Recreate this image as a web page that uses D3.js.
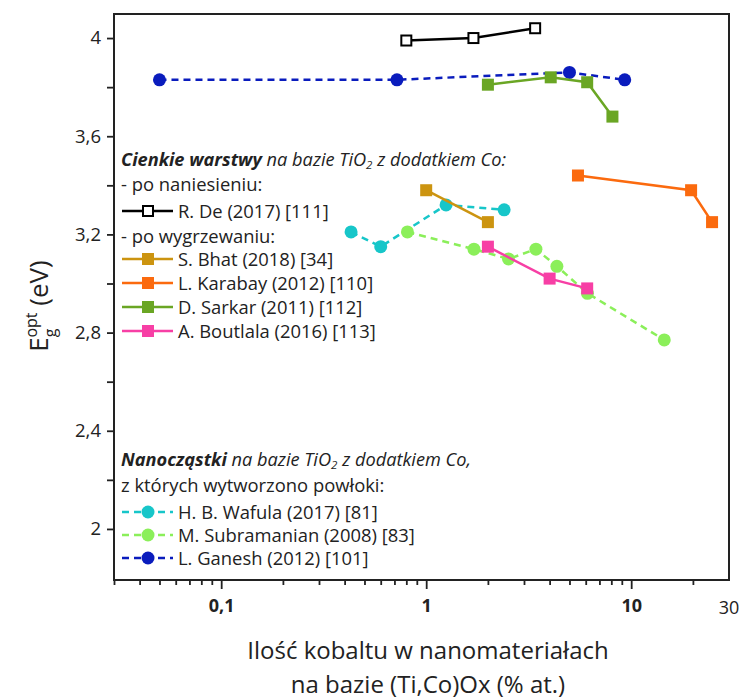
<!DOCTYPE html>
<html><head><meta charset="utf-8">
<script src="https://cdn.jsdelivr.net/npm/d3@7"></script>
<style>
body{margin:0;background:#fff;}
svg{display:block;font-family:"Open Sans",sans-serif;}
</style></head>
<body><svg id="c" width="744" height="700"></svg>
<script>
// ---- data ----
const rDeX = [0.8, 1.7, 3.4];
const rDeY = [3.99, 4.0, 4.04];
const bhatX = [1.0, 2.0];
const bhatY = [3.38, 3.25];
const karabayX = [5.5, 19.6, 24.8];
const karabayY = [3.44, 3.38, 3.25];
const sarkarX = [2.0, 4.05, 6.1, 8.1];
const sarkarY = [3.81, 3.84, 3.82, 3.68];
const boutlalaX = [2.0, 4.0, 6.1];
const boutlalaY = [3.15, 3.02, 2.98];
const wafulaX = [0.43, 0.6, 1.25, 2.4];
const wafulaY = [3.21, 3.15, 3.32, 3.30];
const subraX = [0.81, 1.71, 2.52, 3.43, 4.34, 6.12, 14.5];
const subraY = [3.21, 3.14, 3.10, 3.14, 3.07, 2.96, 2.77];
const ganeshX = [0.05, 0.72, 5.0, 9.3];
const ganeshY = [3.83, 3.83, 3.86, 3.83];
const xTickVals = [0.1, 1, 10, 30];
const xTickLabels = ["0,1", "1", "10", "30"];
const yTickVals = [2, 2.4, 2.8, 3.2, 3.6, 4];
const yTickLabels = ["2", "2,4", "2,8", "3,2", "3,6", "4"];
const yMinorVals = [2.2, 2.6, 3.0, 3.4, 3.8];

const series = [
  {name:"R. De (2017) [111]", x:rDeX, y:rDeY, color:"#000000", shape:"osq", dash:null},
  {name:"S. Bhat (2018) [34]", x:bhatX, y:bhatY, color:"#cc9410", shape:"sq", dash:null},
  {name:"L. Karabay (2012) [110]", x:karabayX, y:karabayY, color:"#fb6a0e", shape:"sq", dash:null},
  {name:"D. Sarkar (2011) [112]", x:sarkarX, y:sarkarY, color:"#6aa624", shape:"sq", dash:null},
  {name:"A. Boutlala (2016) [113]", x:boutlalaX, y:boutlalaY, color:"#f73fa5", shape:"sq", dash:null},
  {name:"H. B. Wafula (2017) [81]", x:wafulaX, y:wafulaY, color:"#17c6c9", shape:"ci", dash:"7,5"},
  {name:"M. Subramanian (2008) [83]", x:subraX, y:subraY, color:"#8bef5a", shape:"ci", dash:"7,5"},
  {name:"L. Ganesh (2012) [101]", x:ganeshX, y:ganeshY, color:"#0a1cbd", shape:"ci", dash:"7,5"}
];

// ---- layout ----
const L = 114, R = 729, T = 14, B = 580;
const svg = d3.select("#c");
const x = d3.scaleLog().domain([0.03, 30]).range([L, R]);
const y = d3.scaleLinear().domain([1.792, 4.098]).range([B, T]);

// frame
svg.append("rect").attr("x", L).attr("y", T).attr("width", R - L).attr("height", B - T)
  .attr("fill", "none").attr("stroke", "#222").attr("stroke-width", 2);

// x minor ticks
const minor = x.ticks().filter(v => !xTickVals.some(t => Math.abs(t - v) < 1e-9));
svg.append("g").attr("transform", `translate(0,${B})`)
  .call(d3.axisBottom(x).tickValues(minor).tickSize(5).tickFormat(""))
  .call(g => g.select(".domain").remove())
  .selectAll("line").attr("stroke", "#222").attr("stroke-width", 1.8);
// x major ticks
const xg = svg.append("g").attr("transform", `translate(0,${B})`)
  .call(d3.axisBottom(x).tickValues(xTickVals.slice(0, 3)).tickSize(9).tickFormat((d, i) => xTickLabels[i]).tickPadding(10));
xg.select(".domain").remove();
xg.selectAll("line").attr("stroke", "#222").attr("stroke-width", 1.8);
xg.selectAll("text").attr("font-size", 18).attr("font-weight", "bold").attr("fill", "#222")
  .attr("font-family", "'Open Sans',sans-serif");
svg.append("text").attr("x", x(30)).attr("y", B + 34).attr("text-anchor", "middle")
  .attr("font-size", 18).attr("fill", "#222").text(xTickLabels[3]);

// y ticks
const yg = svg.append("g").attr("transform", `translate(${L},0)`)
  .call(d3.axisLeft(y).tickValues(yTickVals).tickSize(7).tickPadding(6).tickFormat((d, i) => yTickLabels[i]));
yg.select(".domain").remove();
yg.selectAll("line").attr("stroke", "#222").attr("stroke-width", 1.8);
yg.selectAll("text").attr("font-size", 18.5).attr("fill", "#222").attr("font-family", "'Open Sans',sans-serif");
svg.append("g").attr("transform", `translate(${L},0)`)
  .call(d3.axisLeft(y).tickValues(yMinorVals).tickSize(7).tickFormat(""))
  .call(g => g.select(".domain").remove())
  .selectAll("line").attr("stroke", "#222").attr("stroke-width", 1.8);

// y title
const yt = svg.append("text").attr("transform", "translate(48,306) rotate(-90)")
  .attr("text-anchor", "middle").attr("font-size", 26).attr("fill", "#222");
yt.append("tspan").text("E");
yt.append("tspan").attr("font-size", 16).attr("dy", 8).text("g");
yt.append("tspan").attr("font-size", 16).attr("dx", -9).attr("dy", -19).text("opt");
yt.append("tspan").attr("dy", 11).text(" (eV)");

// x title
svg.append("text").attr("x", 428).attr("y", 659).attr("text-anchor", "middle")
  .attr("font-size", 24).attr("fill", "#222").text("Ilość kobaltu w nanomateriałach");
svg.append("text").attr("x", 428).attr("y", 693).attr("text-anchor", "middle")
  .attr("font-size", 24).attr("fill", "#222").text("na bazie (Ti,Co)Ox (% at.)");

// markers
function marker(g, shape, color, cx, cy) {
  if (shape === "ci") {
    g.append("circle").attr("cx", cx).attr("cy", cy).attr("r", 6.5).attr("fill", color);
  } else if (shape === "sq") {
    g.append("rect").attr("x", cx - 6).attr("y", cy - 6).attr("width", 12).attr("height", 12).attr("fill", color);
  } else {
    g.append("rect").attr("x", cx - 5).attr("y", cy - 5).attr("width", 10).attr("height", 10)
      .attr("fill", "#fff").attr("stroke", color).attr("stroke-width", 2);
  }
}

// draw series (dashed first)
const order = [7, 5, 6, 0, 1, 2, 3, 4];
order.forEach(i => {
  const s = series[i];
  const pts = s.x.map((v, k) => [x(v), y(s.y[k])]);
  const g = svg.append("g");
  g.append("path").attr("d", d3.line()(pts)).attr("fill", "none").attr("stroke", s.color)
    .attr("stroke-width", 2.5).attr("stroke-dasharray", s.dash);
  pts.forEach(p => marker(g, s.shape, s.color, p[0], p[1]));
});

// legend
const fs = 18.4;
function legendItem(s, cy) {
  const g = svg.append("g");
  g.append("line").attr("x1", 122).attr("x2", 173).attr("y1", cy).attr("y2", cy)
    .attr("stroke", s.color).attr("stroke-width", 2.5).attr("stroke-dasharray", s.dash);
  marker(g, s.shape, s.color, 148, cy);
  g.append("text").attr("x", 178).attr("y", cy + 6.5).attr("font-size", fs).attr("fill", "#222").text(s.name);
}
function header(yy, bold, rest, tail) {
  const t = svg.append("text").attr("x", 121).attr("y", yy).attr("font-size", 18.2).attr("fill", "#222")
    .attr("font-style", "italic");
  t.append("tspan").attr("font-weight", "bold").text(bold);
  t.append("tspan").text(rest);
  t.append("tspan").attr("font-size", 11.5).attr("dy", 3).text("2");
  t.append("tspan").attr("dy", -3).text(tail);
}
header(166, "Cienkie warstwy", " na bazie TiO", " z dodatkiem Co:");
svg.append("text").attr("x", 121).attr("y", 191).attr("font-size", fs).attr("fill", "#222").text("- po naniesieniu:");
legendItem(series[0], 211);
svg.append("text").attr("x", 121).attr("y", 243).attr("font-size", fs).attr("fill", "#222").text("- po wygrzewaniu:");
legendItem(series[1], 259);
legendItem(series[2], 283);
legendItem(series[3], 307);
legendItem(series[4], 331);

header(466, "Nanocząstki", " na bazie TiO", " z dodatkiem Co,");
svg.append("text").attr("x", 121).attr("y", 492).attr("font-size", fs).attr("fill", "#222").text("z których wytworzono powłoki:");
legendItem(series[5], 512);
legendItem(series[6], 535);
legendItem(series[7], 558);
</script></body></html>
